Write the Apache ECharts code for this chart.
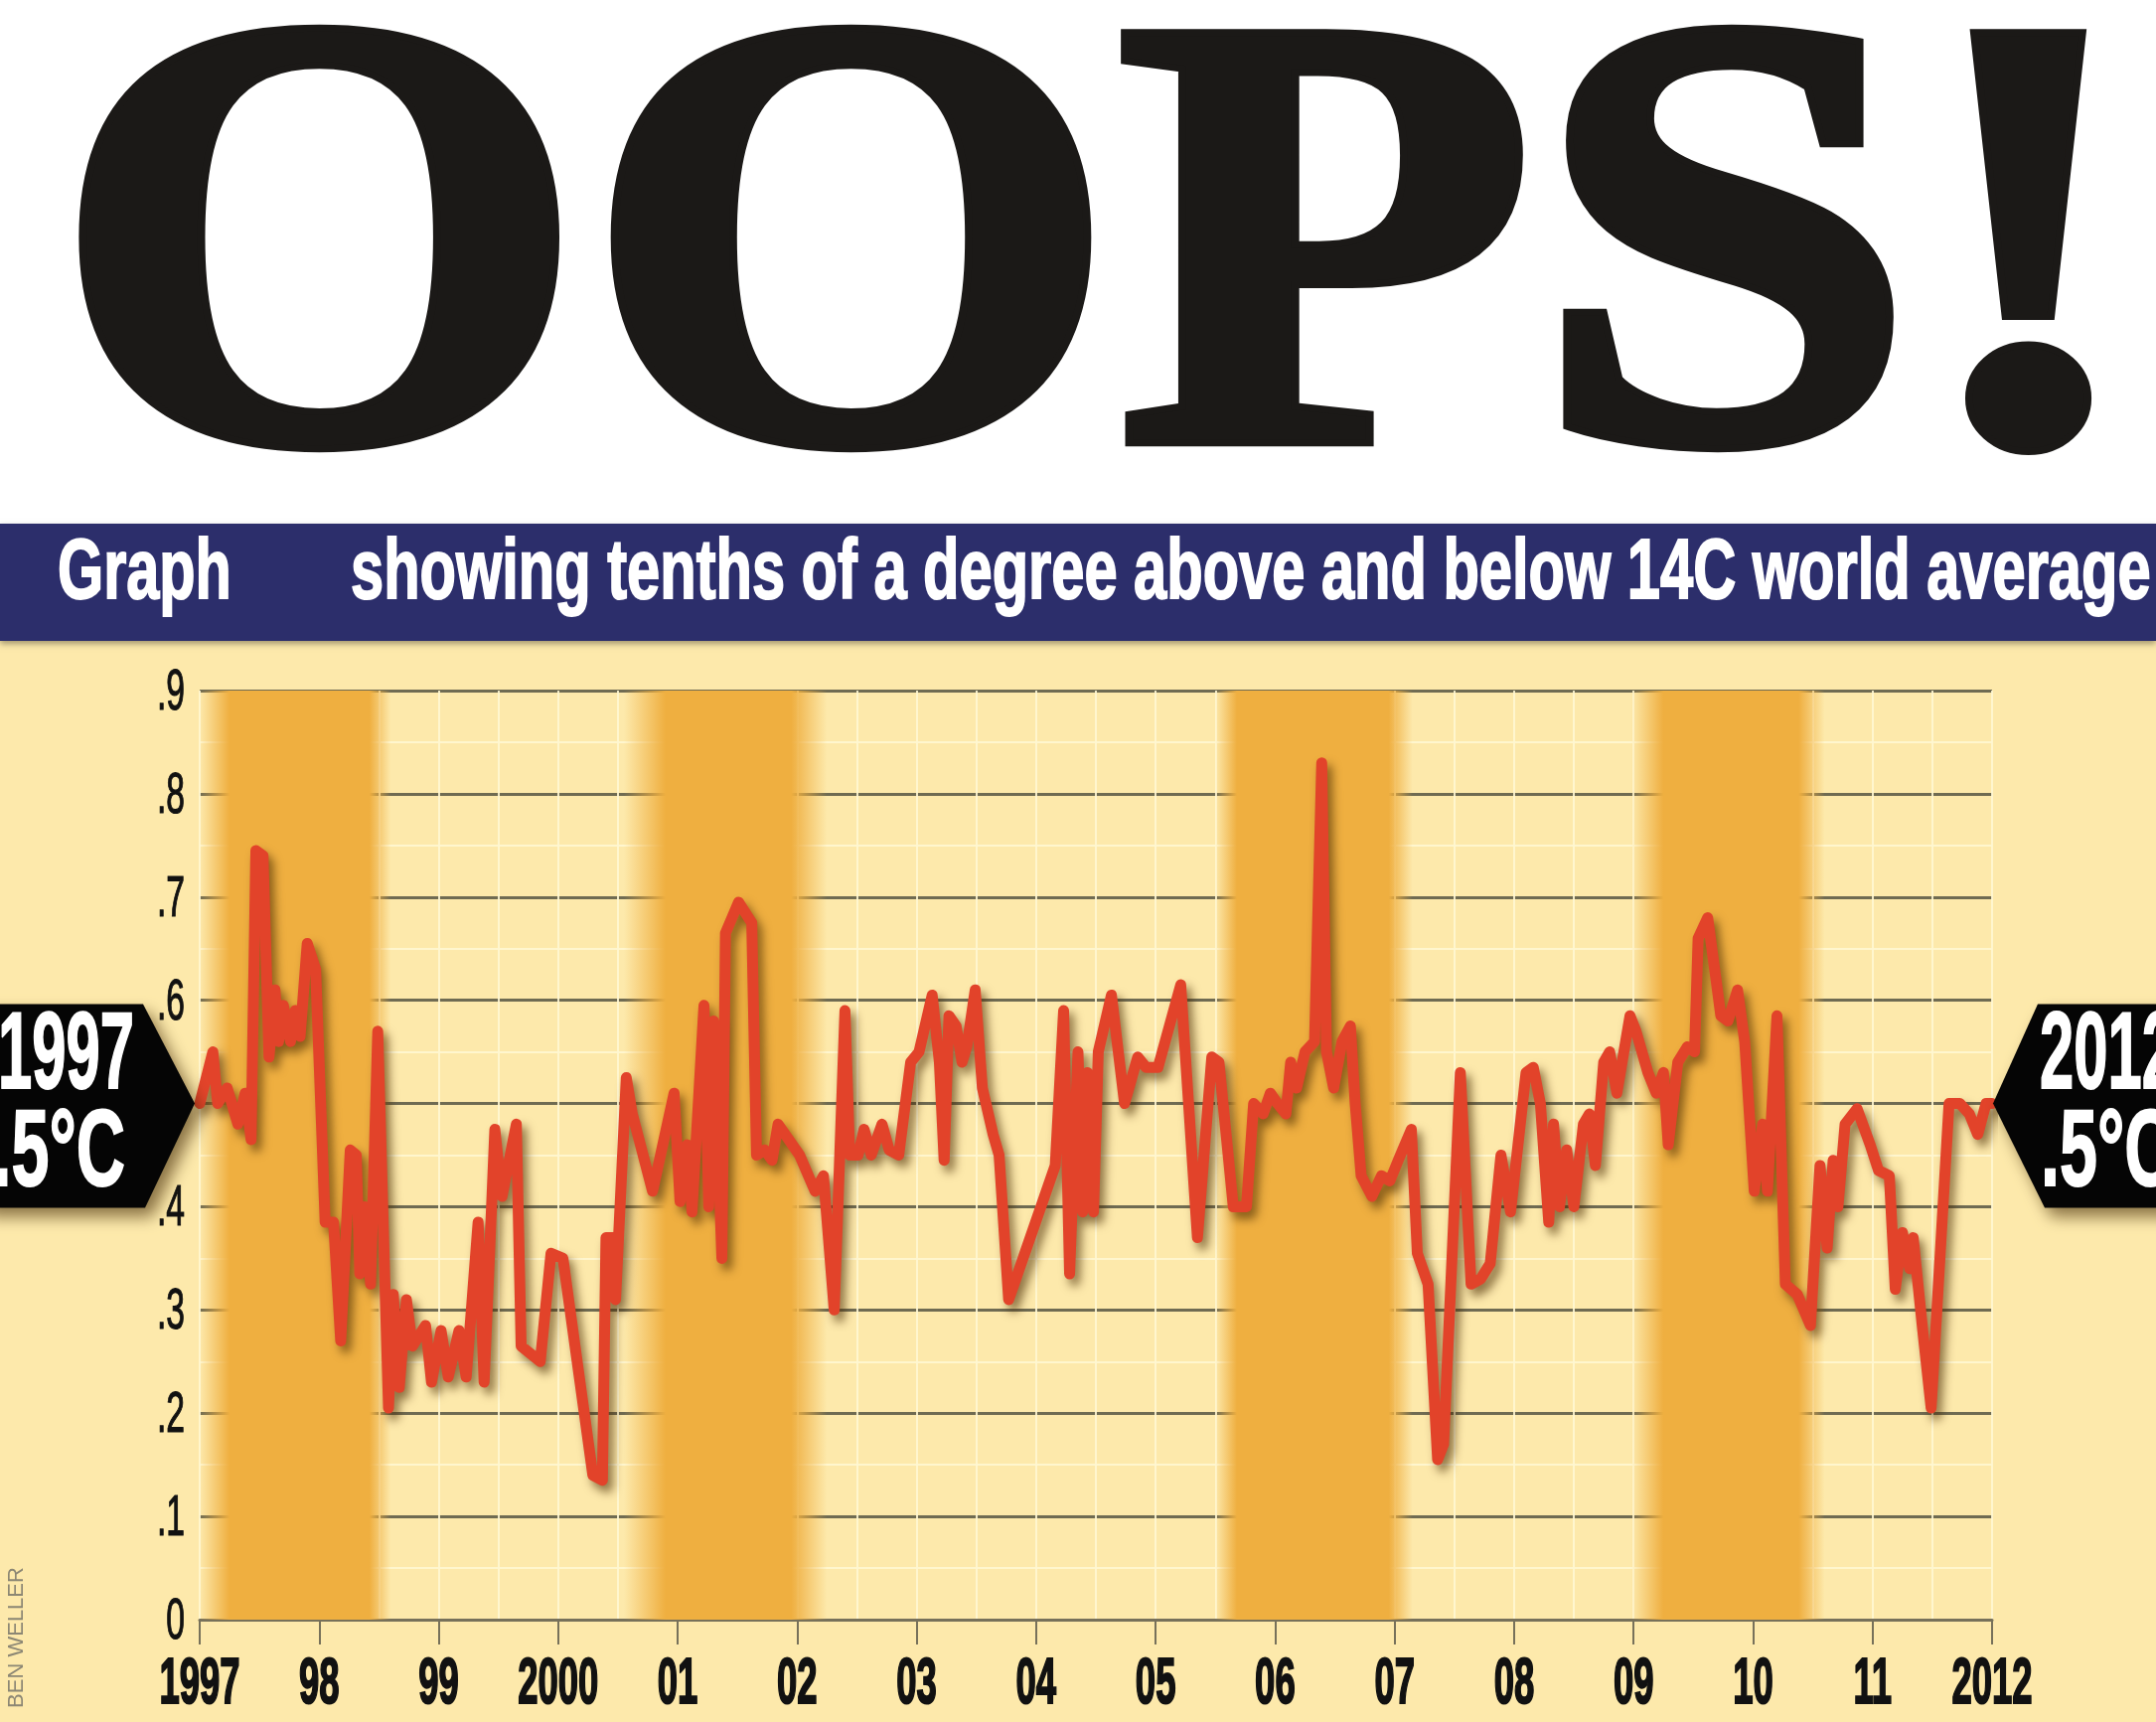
<!DOCTYPE html>
<html><head><meta charset="utf-8">
<script src="https://cdn.jsdelivr.net/npm/echarts@6/dist/echarts.min.js"></script>
<style>html,body{margin:0;padding:0;background:#fff}#c{width:2170px;height:1733px}</style>
</head><body><div id="c"></div>
<script>
// ---------- data ----------
const headline = 'OOPS!';
const subtitleLead = 'Graph';
const subtitle = 'showing tenths of a degree above and below 14C world average';
const credit = 'BEN WELLER';
const yearTicks = [1997,1998,1999,2000,2001,2002,2003,2004,2005,2006,2007,2008,2009,2010,2011,2012];
const yearLabels = ['1997','98','99','2000','01','02','03','04','05','06','07','08','09','10','11','2012'];
const valueTicks = [0,0.1,0.2,0.3,0.4,0.5,0.6,0.7,0.8,0.9];
const valueLabels = ['0','.1','.2','.3','.4','.5','.6','.7','.8','.9'];
const startTag = ['1997', '.5\u00B0C'];
const endTag = ['2012', '.5\u00B0C'];
const startValue = 0.5, endValue = 0.5;
// shaded periods: [fadeStart, fullStart, fullEnd, fadeEnd] in years
const bands = [
  [1997.0, 1997.25, 1998.42, 1998.6],
  [2000.55, 2000.9, 2001.95, 2002.25],
  [2005.5, 2005.68, 2006.95, 2007.15],
  [2008.98, 2009.25, 2010.38, 2010.6]
];
const times = [
1997.00,1997.11,1997.15,1997.23,1997.32,1997.38,1997.43,1997.47,1997.53,1997.58,1997.63,1997.66,1997.70,1997.76,1997.80,1997.84,1997.90,1997.97,
1998.05,1998.12,1998.18,1998.26,1998.31,1998.34,1998.38,1998.43,1998.49,1998.58,1998.62,1998.67,1998.73,1998.78,1998.89,1998.94,
1999.02,1999.08,1999.17,1999.23,1999.33,1999.38,1999.47,1999.53,1999.65,1999.69,1999.85,1999.94,
2000.04,2000.29,2000.37,2000.40,2000.46,2000.48,2000.57,2000.62,2000.79,2000.97,
2001.02,2001.08,2001.12,2001.22,2001.26,2001.30,2001.37,2001.40,2001.51,2001.62,2001.66,2001.73,2001.79,2001.84,
2002.02,2002.15,2002.22,2002.31,2002.40,2002.44,2002.51,2002.56,2002.62,2002.71,2002.77,2002.85,2002.95,
2003.02,2003.13,2003.19,2003.23,2003.27,2003.33,2003.38,2003.42,2003.49,2003.55,2003.64,2003.69,2003.77,
2004.16,2004.23,2004.28,2004.35,2004.39,2004.43,2004.48,2004.52,2004.63,2004.74,2004.85,2004.92,
2005.02,2005.21,2005.35,2005.47,2005.53,2005.65,2005.76,2005.82,2005.90,2005.96,
2006.02,2006.09,2006.13,2006.18,2006.25,2006.33,2006.39,2006.43,2006.49,2006.56,2006.63,2006.67,2006.72,2006.81,2006.89,2006.96,
2007.03,2007.14,2007.19,2007.28,2007.36,2007.41,2007.55,2007.64,2007.72,2007.80,2007.89,2007.97,
2008.10,2008.16,2008.22,2008.29,2008.33,2008.38,2008.44,2008.50,2008.58,2008.63,2008.68,2008.75,2008.80,2008.86,2008.97,
2009.02,2009.12,2009.19,2009.25,2009.29,2009.37,2009.45,2009.51,2009.54,2009.62,2009.69,2009.73,2009.79,2009.87,2009.93,
2010.01,2010.08,2010.12,2010.20,2010.27,2010.37,2010.48,2010.56,2010.62,2010.67,2010.71,2010.77,2010.87,2010.98,
2011.05,2011.14,2011.19,2011.25,2011.31,2011.34,2011.42,2011.49,2011.64,2011.73,2011.81,2011.88,2011.95,2012.00
];
const anomalies = [
0.50,0.55,0.50,0.515,0.48,0.51,0.465,0.745,0.74,0.545,0.61,0.56,0.595,0.56,0.59,0.565,0.655,0.63,
0.385,0.385,0.27,0.455,0.45,0.335,0.40,0.325,0.57,0.205,0.315,0.225,0.31,0.265,0.285,0.23,
0.28,0.235,0.28,0.235,0.385,0.23,0.475,0.41,0.48,0.265,0.25,0.355,
0.35,0.14,0.135,0.37,0.37,0.31,0.525,0.49,0.415,0.51,
0.405,0.46,0.395,0.595,0.40,0.58,0.35,0.665,0.695,0.675,0.45,0.455,0.445,0.48,
0.45,0.415,0.43,0.30,0.59,0.45,0.45,0.475,0.45,0.48,0.455,0.45,0.54,
0.55,0.605,0.54,0.445,0.585,0.575,0.54,0.555,0.61,0.515,0.47,0.45,0.31,
0.44,0.59,0.335,0.55,0.395,0.53,0.395,0.55,0.605,0.50,0.545,0.535,
0.535,0.615,0.37,0.545,0.54,0.40,0.40,0.50,0.49,0.51,
0.50,0.49,0.54,0.515,0.55,0.56,0.83,0.55,0.515,0.56,0.575,0.50,0.43,0.41,0.43,0.425,
0.445,0.475,0.355,0.325,0.155,0.17,0.53,0.325,0.33,0.345,0.45,0.395,
0.53,0.535,0.50,0.385,0.48,0.40,0.455,0.40,0.48,0.49,0.44,0.54,0.55,0.51,0.585,
0.57,0.53,0.51,0.53,0.46,0.54,0.555,0.55,0.66,0.68,0.62,0.585,0.58,0.61,0.56,
0.415,0.48,0.415,0.585,0.325,0.315,0.285,0.44,0.36,0.445,0.40,0.48,0.495,0.46,
0.435,0.43,0.32,0.375,0.34,0.37,0.28,0.205,0.50,0.50,0.49,0.47,0.50,0.50
];

// ---------- chart ----------
const W = 2170, H = 1733;
const chart = echarts.init(document.getElementById('c'), null, {renderer: 'canvas', width: W, height: H});
const ORANGE = 'rgba(239,175,64,1)';
const ORANGE0 = 'rgba(239,175,64,0)';
function bandGradient(b) {
  const w = b[3] - b[0];
  return {type: 'linear', x: 0, y: 0, x2: 1, y2: 0, colorStops: [
    {offset: 0, color: ORANGE0},
    {offset: (b[1] - b[0]) / w, color: ORANGE},
    {offset: (b[2] - b[0]) / w, color: ORANGE},
    {offset: 1, color: ORANGE0}
  ]};
}
const LIGHT = 'rgba(255,247,210,0.9)';
const option = {
  backgroundColor: '#fde9ab',
  animation: false,
  grid: {left: 201, right: 165, top: 695, bottom: 103, outerBoundsMode: 'none'},
  xAxis: {
    type: 'value', min: 1997, max: 2012, interval: 1,
    axisLine: {show: true, onZero: false, lineStyle: {color: '#77715a', width: 3}},
    axisTick: {show: true, length: 25, lineStyle: {color: '#77715a', width: 2}},
    axisLabel: {show: false},
    splitLine: {show: true, lineStyle: {color: LIGHT, width: 2}},
    minorTick: {show: false, splitNumber: 2},
    minorSplitLine: {show: true, lineStyle: {color: LIGHT, width: 2}}
  },
  yAxis: {
    type: 'value', min: 0, max: 0.9, interval: 0.1,
    axisLine: {show: false}, axisTick: {show: false}, axisLabel: {show: false},
    splitLine: {show: true, lineStyle: {color: '#6f6b52', width: 3}},
    minorTick: {show: false, splitNumber: 2},
    minorSplitLine: {show: true, lineStyle: {color: LIGHT, width: 2}}
  },
  series: [
    {
      type: 'line', z: -1, data: [], silent: true,
      markArea: {silent: true, data: bands.map(b => [{xAxis: b[0], itemStyle: {color: bandGradient(b)}}, {xAxis: b[3]}])}
    },
    {
      type: 'line', z: 3, showSymbol: false, symbol: 'none', silent: true,
      data: times.map((t, i) => [t, anomalies[i]]),
      lineStyle: {color: '#e2432a', width: 11, cap: 'round', join: 'round',
        shadowColor: 'rgba(70,40,0,0.6)', shadowBlur: 10, shadowOffsetX: 5, shadowOffsetY: 7}
    }
  ]
};
chart.setOption(option);

const px = (x, y) => chart.convertToPixel({gridIndex: 0}, [x, y]);
const els = [];
// white top area
els.push({type: 'rect', shape: {x: 0, y: 0, width: W, height: 527}, z: 1, style: {fill: '#ffffff'}});
// headline
els.push({type: 'text', x: 1105, y: 282, scaleX: 1.11, z: 5,
  style: {text: headline, font: 'bold 620px "Liberation Serif"', fill: '#1b1917', stroke: '#1b1917', lineWidth: 14,
    align: 'center', verticalAlign: 'middle'}});
// navy band
els.push({type: 'rect', shape: {x: 0, y: 527, width: W, height: 118}, z: 5,
  style: {fill: '#2c2e6b', shadowColor: 'rgba(0,0,0,0.35)', shadowBlur: 6, shadowOffsetY: 3}});
els.push({type: 'text', x: 58, y: 578, scaleX: 0.69, z: 6,
  style: {text: subtitleLead, font: 'bold 86px "Liberation Sans"', fill: '#fff', stroke: '#fff', lineWidth: 2,
    align: 'left', verticalAlign: 'middle'}});
els.push({type: 'text', x: 353, y: 578, scaleX: 0.693, z: 6,
  style: {text: subtitle, font: 'bold 86px "Liberation Sans"', fill: '#fff', stroke: '#fff', lineWidth: 2,
    align: 'left', verticalAlign: 'middle'}});
// x labels
yearTicks.forEach((yr, i) => {
  const p = px(yr, 0);
  els.push({type: 'text', x: p[0], y: p[1] + 66, scaleX: 0.57, z: 6,
    style: {text: yearLabels[i], font: 'bold 64px "Liberation Sans"', fill: '#111', stroke: '#111', lineWidth: 2,
      align: 'center', verticalAlign: 'middle'}});
});
// y labels
valueTicks.forEach((v, i) => {
  const p = px(1997, v);
  els.push({type: 'text', x: p[0] - 15, y: p[1] + 3, scaleX: 0.58, z: 6,
    style: {text: valueLabels[i], font: '58px "Liberation Sans"', fill: '#111', stroke: '#111', lineWidth: 1.2,
      align: 'right', verticalAlign: 'middle'}});
});
// tags
const tagFont = 'bold 110px "Liberation Sans"';
const tagShadow = {shadowColor: 'rgba(60,35,0,0.6)', shadowBlur: 16, shadowOffsetX: 7, shadowOffsetY: 9};
const L = px(1997, startValue); const lx = L[0] - 5, ly = L[1];
els.push({type: 'polygon', z: 20,
  shape: {points: [[-20, ly - 100], [lx - 52, ly - 100], [lx, ly], [lx - 50, ly + 105], [-20, ly + 105]]},
  style: Object.assign({fill: '#050505'}, tagShadow)});
els.push({type: 'text', x: lx - 61, y: ly - 46, scaleX: 0.56, z: 21,
  style: {text: startTag[0], font: tagFont, fill: '#fff', stroke: '#fff', lineWidth: 2, align: 'right', verticalAlign: 'middle'}});
els.push({type: 'text', x: lx - 70, y: ly + 52, scaleX: 0.62, z: 21,
  style: {text: startTag[1], font: tagFont, fill: '#fff', stroke: '#fff', lineWidth: 2, align: 'right', verticalAlign: 'middle'}});
const R = px(2012, endValue); const rx = R[0] + 1, ry = R[1];
els.push({type: 'polygon', z: 20,
  shape: {points: [[rx, ry], [rx + 45, ry - 100], [W + 20, ry - 100], [W + 20, ry + 105], [rx + 52, ry + 105]]},
  style: Object.assign({fill: '#050505'}, tagShadow)});
els.push({type: 'text', x: rx + 47, y: ry - 46, scaleX: 0.56, z: 21,
  style: {text: endTag[0], font: tagFont, fill: '#fff', stroke: '#fff', lineWidth: 2, align: 'left', verticalAlign: 'middle'}});
els.push({type: 'text', x: rx + 48, y: ry + 52, scaleX: 0.62, z: 21,
  style: {text: endTag[1], font: tagFont, fill: '#fff', stroke: '#fff', lineWidth: 2, align: 'left', verticalAlign: 'middle'}});
// credit
els.push({type: 'text', x: 17, y: 1648, rotation: Math.PI / 2, scaleX: 1.0, z: 6,
  style: {text: credit, font: '22px "Liberation Sans"', fill: '#8c8774', align: 'center', verticalAlign: 'middle'}});

chart.setOption({graphic: {elements: els}});
</script>
</body></html>
